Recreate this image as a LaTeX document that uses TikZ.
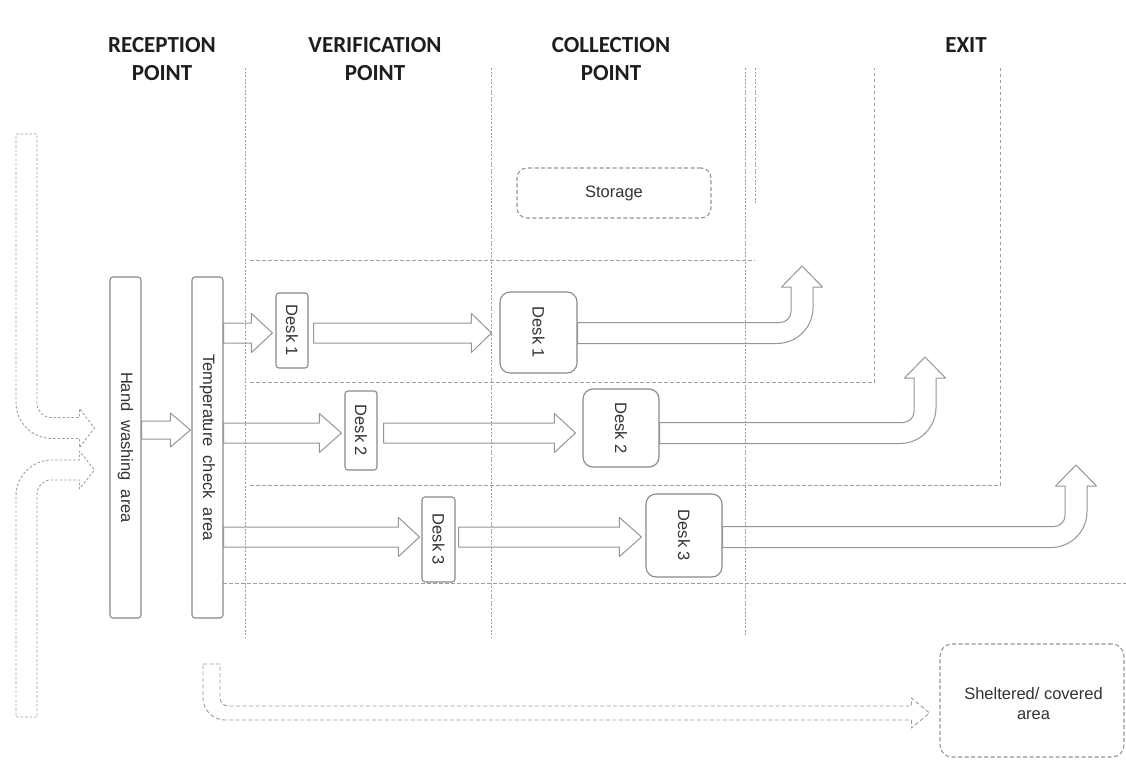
\documentclass[tikz,border=0pt]{standalone}
\usepackage{fontspec}
\setmainfont{Liberation Sans}
\newfontfamily\hdrfont{Carlito}
\usetikzlibrary{calc}
\definecolor{boxgray}{HTML}{8A8A8A}
\definecolor{arrgray}{HTML}{969696}
\definecolor{gridgray}{HTML}{9E9E9E}
\definecolor{txtgray}{HTML}{333333}
\definecolor{hdrcol}{HTML}{1E1E1E}
% straight block arrow: #1 start, #2 tip, #3 shaft half, #4 head half, #5 head length
\newcommand\arrBlock[5]{\draw[blk] let \p1=(#1), \p2=(#2) in
  (\x1,\y2+#3) -- (\x2-#5,\y2+#3) -- (\x2-#5,\y2+#4) -- (\x2,\y2) -- (\x2-#5,\y2-#4) -- (\x2-#5,\y2-#3) -- (\x1,\y2-#3) -- cycle;}
% right-then-up arrow: #1 start (row), #2 tip
\newcommand\arrUturn[2]{\draw[blk] let \p1=(#1), \p2=(#2) in
  (\x1,\y1+10.5pt) -- (\x2-22pt,\y1+10.5pt)
  .. controls (\x2-15.9pt,\y1+10.5pt) and (\x2-11pt,\y1+15.4pt) .. (\x2-11pt,\y1+21.5pt)
  -- (\x2-11pt,\y2-21pt) -- (\x2-20.5pt,\y2-21pt) -- (\x2,\y2) -- (\x2+20.5pt,\y2-21pt) -- (\x2+11pt,\y2-21pt)
  -- (\x2+11pt,\y1+25.5pt)
  .. controls (\x2+11pt,\y1+5.6pt) and (\x2-5.1pt,\y1-10.5pt) .. (\x2-25pt,\y1-10.5pt)
  -- (\x1,\y1-10.5pt) -- cycle;}
% down-then-right: #1 style, #2 top start, #3 tip, #4 vhalf, #5 hhalf, #6 headhalf, #7 headlen, #8 Ri, #9 Ro
\newcommand\arrDR[9]{\draw[#1] let \p1=(#2), \p2=(#3) in
  (\x1-#4,\y1) -- (\x1+#4,\y1) -- (\x1+#4,\y2+#5+#8)
  .. controls (\x1+#4,\y2+#5+0.448*#8) and (\x1+#4+0.448*#8,\y2+#5) .. (\x1+#4+#8,\y2+#5)
  -- (\x2-#7,\y2+#5) -- (\x2-#7,\y2+#6) -- (\x2,\y2) -- (\x2-#7,\y2-#6) -- (\x2-#7,\y2-#5)
  -- (\x1-#4+#9,\y2-#5)
  .. controls (\x1-#4+0.448*#9,\y2-#5) and (\x1-#4,\y2-#5+0.448*#9) .. (\x1-#4,\y2-#5+#9) -- cycle;}
% up-then-right
\newcommand\arrUR[9]{\draw[#1] let \p1=(#2), \p2=(#3) in
  (\x1-#4,\y1) -- (\x1+#4,\y1) -- (\x1+#4,\y2-#5-#8)
  .. controls (\x1+#4,\y2-#5-0.448*#8) and (\x1+#4+0.448*#8,\y2-#5) .. (\x1+#4+#8,\y2-#5)
  -- (\x2-#7,\y2-#5) -- (\x2-#7,\y2-#6) -- (\x2,\y2) -- (\x2-#7,\y2+#6) -- (\x2-#7,\y2+#5)
  -- (\x1-#4+#9,\y2+#5)
  .. controls (\x1-#4+0.448*#9,\y2+#5) and (\x1-#4,\y2+#5-0.448*#9) .. (\x1-#4,\y2+#5-#9) -- cycle;}
\begin{document}
\begin{tikzpicture}[x=1pt,y=-1pt,
  blk/.style={draw=arrgray, line width=1pt, line join=round},
  boxst/.style={draw=boxgray, line width=1.1pt, fill=white, rounded corners=3pt, inner sep=0pt,
    text=txtgray, font=\fontsize{16.5}{19}\selectfont},
  tallbox/.style={boxst, minimum width=31pt, minimum height=341pt},
  deskv/.style={boxst, minimum width=32pt},
  deskc/.style={boxst, rounded corners=10pt},
  dbox/.style={boxst, draw=arrgray, dash pattern=on 4pt off 2.5pt, rounded corners=10pt, align=center},
  vline/.style={draw=gridgray, line width=0.8pt, dash pattern=on 2pt off 1.6pt},
  hline/.style={draw=gridgray, line width=0.8pt, dash pattern=on 3.5pt off 2.5pt},
  entryarr/.style={draw=gridgray, line width=0.9pt, dash pattern=on 2.5pt off 2pt, line join=round},
  hdr/.style={font=\hdrfont\bfseries\fontsize{23}{28}\selectfont, text=hdrcol, align=center, anchor=north, inner sep=0pt}]
\useasboundingbox (0,0) rectangle (1126,760);
\fill[white] (0,0) rectangle (1126,760);

% headers
\node[hdr] (hrec) at (162,37) {RECEPTION\\POINT};
\node[hdr] (hver) at (375,37) {VERIFICATION\\POINT};
\node[hdr] (hcol) at (611,37) {COLLECTION\\POINT};
\node[hdr] (hexit) at (966,37) {EXIT};

% zone lines
\draw[vline] (245,68) -- (245,638);
\draw[vline] (491,68) -- (491,638);
\draw[vline] (745,68) -- (745,636);
\draw[vline] (755,68) -- (755,203);
\draw[hline] (250,260) -- (755,260);
\draw[hline] (250,382) -- (874,382) -- (874,68);
\draw[hline] (250,485) -- (1000,485) -- (1000,68);
\draw[hline] (223,583) -- (1126,583);

% rows
\coordinate (rowh) at (0,430);
\coordinate (row1) at (0,333);
\coordinate (row2) at (0,433);
\coordinate (row3) at (0,537);
\coordinate (in1) at (0,428);
\coordinate (in2) at (0,470);
\coordinate (outrow) at (0,713);
\coordinate (exit1) at (802,266);
\coordinate (exit2) at (925,357);
\coordinate (exit3) at (1076,465);
\coordinate (in1top) at (26.5,134);
\coordinate (in2bot) at (26.5,717);
\coordinate (outtop) at (211.5,664);

% nodes
\node[tallbox] (hand) at (125.5,447.5) {\rotatebox{-90}{\spaceskip=9pt plus 1pt Hand washing area}};
\node[tallbox] (temp) at (207.5,447.5) {\rotatebox{-90}{\spaceskip=9pt plus 1pt Temperature check area}};
\node[deskv, minimum height=75pt] (desk1v) at (292,330.5) {\rotatebox{-90}{Desk 1}};
\node[deskv, minimum height=79pt] (desk2v) at (361,430.5) {\rotatebox{-90}{Desk 2}};
\node[deskv, minimum width=33pt, minimum height=85pt] (desk3v) at (438.5,539.5) {\rotatebox{-90}{Desk 3}};
\node[deskc, minimum width=77pt, minimum height=81pt] (cdesk1) at (538.5,332.5) {\rotatebox{-90}{Desk 1}};
\node[deskc, minimum width=76pt, minimum height=78pt] (cdesk2) at (621,428) {\rotatebox{-90}{Desk 2}};
\node[deskc, minimum width=76pt, minimum height=83pt] (cdesk3) at (684,535.5) {\rotatebox{-90}{Desk 3}};
\node[dbox, minimum width=194pt, minimum height=50pt] (storage) at (614,193) {Storage};
\node[dbox, minimum width=184pt, minimum height=113pt, rounded corners=12pt, font=\fontsize{16.5}{20}\selectfont] (shelter) at (1032,700.5) {\raisebox{-9pt}[0pt][0pt]{\hspace{3pt}\begin{tabular}{@{}c@{}}Sheltered/ covered\\area\end{tabular}}};

% block arrows
\arrBlock{hand.east |- rowh}{$(temp.west |- rowh)+(-1,0)$}{9pt}{17pt}{20pt}
\arrBlock{temp.east |- row1}{$(desk1v.west |- row1)+(-3,0)$}{10pt}{19.5pt}{21pt}
\arrBlock{$(desk1v.east |- row1)+(5,0)$}{$(cdesk1.west |- row1)+(-8,0)$}{10pt}{19.5pt}{20pt}
\arrBlock{temp.east |- row2}{$(desk2v.west |- row2)+(-3,0)$}{10pt}{19.5pt}{22pt}
\arrBlock{$(desk2v.east |- row2)+(6,0)$}{$(cdesk2.west |- row2)+(-7,0)$}{10pt}{19.5pt}{21pt}
\arrBlock{temp.east |- row3}{$(desk3v.west |- row3)+(-2,0)$}{10pt}{19.5pt}{21pt}
\arrBlock{$(desk3v.east |- row3)+(3,0)$}{$(cdesk3.west |- row3)+(-4,0)$}{10pt}{19.5pt}{22pt}

% exit arrows
\arrUturn{cdesk1.east |- row1}{exit1}
\arrUturn{cdesk2.east |- row2}{exit2}
\arrUturn{cdesk3.east |- row3}{exit3}

% dashed entry / shelter arrows
\arrDR{entryarr}{in1top}{$(hand.west |- in1)+(-15,0)$}{10.5pt}{10.5pt}{19.5pt}{15pt}{14pt}{36pt}
\arrUR{entryarr}{in2bot}{$(hand.west |- in2)+(-15,0)$}{10.5pt}{10pt}{19pt}{15pt}{14pt}{36pt}
\arrDR{entryarr, dash pattern=on 4pt off 2.5pt}{outtop}{$(shelter.west |- outrow)+(-10,0)$}{8.5pt}{7pt}{15pt}{18pt}{8pt}{22pt}
\end{tikzpicture}
\end{document}
